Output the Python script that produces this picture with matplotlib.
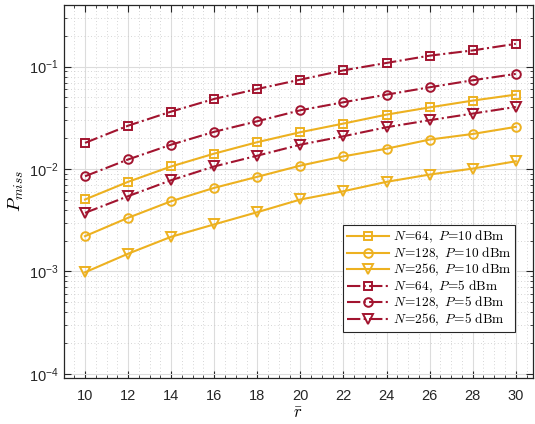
import matplotlib
matplotlib.use("Agg")
import matplotlib.pyplot as plt
from matplotlib.ticker import LogLocator, MultipleLocator, FixedLocator, FuncFormatter
import numpy as np

r_bar = [10, 12, 14, 16, 18, 20, 22, 24, 26, 28, 30]

p64_10 = [0.00504, 0.0075, 0.0106, 0.01415, 0.0183, 0.0229, 0.0278, 0.034, 0.040, 0.0466, 0.0533]
p128_10 = [0.00221, 0.00334, 0.00485, 0.00655, 0.0084, 0.0108, 0.0133, 0.0158, 0.0194, 0.022, 0.0258]
p256_10 = [0.00098, 0.00149, 0.00218, 0.00288, 0.00379, 0.00504, 0.00607, 0.0075, 0.00883, 0.0101, 0.0119]
p64_5 = [0.018, 0.0265, 0.0364, 0.0484, 0.0605, 0.0747, 0.092, 0.1087, 0.128, 0.144, 0.167]
p128_5 = [0.0085, 0.0124, 0.0173, 0.0231, 0.0293, 0.0375, 0.0449, 0.0533, 0.0629, 0.0736, 0.0849]
p256_5 = [0.00373, 0.00543, 0.00778, 0.0106, 0.0135, 0.0173, 0.0209, 0.0256, 0.030, 0.0348, 0.0404]

labels = [r"$N\!=\!64,\ P\!=\!10\ \mathrm{dBm}$",
          r"$N\!=\!128,\ P\!=\!10\ \mathrm{dBm}$",
          r"$N\!=\!256,\ P\!=\!10\ \mathrm{dBm}$",
          r"$N\!=\!64,\ P\!=\!5\ \mathrm{dBm}$",
          r"$N\!=\!128,\ P\!=\!5\ \mathrm{dBm}$",
          r"$N\!=\!256,\ P\!=\!5\ \mathrm{dBm}$"]

plt.rcParams['font.family'] = ['Liberation Sans', 'DejaVu Sans']
plt.rcParams['mathtext.fontset'] = 'cm'

yellow = '#EDB120'
red = '#A2142F'

fig = plt.figure(figsize=(5.35, 4.24), dpi=100)
ax = fig.add_axes([63.5/535, 46/424, (533-63.5)/535, (378-5)/424])

series = [p64_10, p128_10, p256_10, p64_5, p128_5, p256_5]
colors = [yellow, yellow, yellow, red, red, red]
styles = ['-', '-', '-', '-.', '-.', '-.']
markers = ['s', 'o', 'v', 's', 'o', 'v']
msizes = {'s': 5.5, 'o': 6.2, 'v': 7.0}
for s, c, ls, m, lab in zip(series, colors, styles, markers, labels):
    ax.plot(r_bar, s, color=c, ls=ls, marker=m, mfc='none', mec=c, mew=1.4,
            ms=msizes[m], lw=1.5, label=lab)

ax.set_yscale('log')
ax.set_xlim(9, 30.8)
ax.set_ylim(9.1e-5, 0.4)
ax.xaxis.set_major_locator(FixedLocator(r_bar))
ax.xaxis.set_minor_locator(MultipleLocator(0.5))
ax.yaxis.set_major_locator(LogLocator(base=10, numticks=10))
ax.yaxis.set_minor_locator(LogLocator(base=10, subs=np.arange(2, 10), numticks=20))

def fmt(v, pos):
    e = int(round(np.log10(v)))
    return r"$\mathdefault{10^{%d}}$" % e
ax.yaxis.set_major_formatter(FuncFormatter(fmt))

ax.grid(True, which='major', color='#dcdcdc', lw=0.8, ls='-')
ax.grid(True, which='minor', color='#c8c8c8', lw=0.6, ls=(0, (1, 3)))
ax.set_axisbelow(True)

ax.tick_params(which='both', direction='in', top=True, right=True, colors='#262626',
               labelsize=10.5)
ax.tick_params(which='major', length=5, width=0.8)
ax.tick_params(which='minor', length=2.5, width=0.6)
ax.tick_params(axis='x', pad=8)
for sp in ax.spines.values():
    sp.set_color('#262626')
    sp.set_linewidth(0.9)

ax.set_xlabel(r"$\bar{r}$", fontsize=12, labelpad=2)
ax.set_ylabel(r"$P_{miss}$", fontsize=13.5, labelpad=2)

leg = ax.legend(loc='lower right', bbox_to_anchor=((515-63.5)/469.5, (378-332)/373),
                borderaxespad=0, fontsize=9.6,
                handlelength=3.2, handletextpad=0.25, borderpad=0.3, labelspacing=0.02,
                fancybox=False, framealpha=1, edgecolor='#262626')
leg.get_frame().set_linewidth(0.8)

fig.savefig('out.png', dpi=100)
